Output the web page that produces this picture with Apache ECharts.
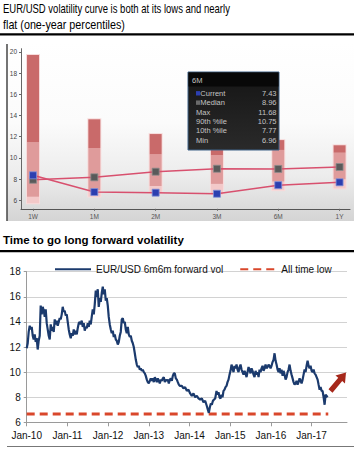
<!DOCTYPE html>
<html>
<head>
<meta charset="utf-8">
<title>EUR/USD volatility</title>
<script src="https://cdn.jsdelivr.net/npm/echarts@6/dist/echarts.min.js"></script>
<style>
  html, body { margin: 0; padding: 0; background: #fff; }
  #chart { width: 354px; height: 450px; }
</style>
</head>
<body>
<div id="chart"></div>
<script>
// --- top panel: one-year percentiles per tenor ---
const tenors = ['1W', '1M', '2M', '3M', '6M', '1Y'];
const volMax = [19.7, 13.64, 12.25, 11.1, 11.68, 11.19];
const vol90 = [11.47, 10.93, 10.34, 10.27, 10.75, 10.49];
const vol10 = [6.34, 6.95, 7.35, 7.55, 7.77, 7.98];
const volMin = [5.72, 6.35, 6.7, 6.55, 6.96, 7.13];
const volCurrent = [8.36, 6.78, 6.72, 6.62, 7.43, 7.7];
const volMedian = [7.94, 8.17, 8.7, 8.98, 8.96, 9.14];
const topTicks = [6, 8, 10, 12, 14, 16, 18, 20];
const tipIndex = 4; // tooltip shown for 6M

// --- bottom panel: EUR/USD 6m6m forward vol ---
const fwdYears = [
  2010.000, 2010.025, 2010.049, 2010.074, 2010.098, 2010.123, 2010.148, 2010.172, 2010.197, 2010.221,
  2010.246, 2010.270, 2010.295, 2010.320, 2010.344, 2010.369, 2010.393, 2010.418, 2010.443, 2010.467,
  2010.492, 2010.516, 2010.541, 2010.566, 2010.590, 2010.615, 2010.639, 2010.664, 2010.689, 2010.713,
  2010.738, 2010.762, 2010.787, 2010.811, 2010.836, 2010.861, 2010.885, 2010.910, 2010.934, 2010.959,
  2010.984, 2011.008, 2011.033, 2011.057, 2011.082, 2011.107, 2011.131, 2011.156, 2011.180, 2011.205,
  2011.230, 2011.254, 2011.279, 2011.303, 2011.328, 2011.352, 2011.377, 2011.402, 2011.426, 2011.451,
  2011.475, 2011.500, 2011.525, 2011.549, 2011.574, 2011.598, 2011.623, 2011.648, 2011.672, 2011.697,
  2011.721, 2011.746, 2011.770, 2011.795, 2011.820, 2011.844, 2011.869, 2011.893, 2011.918, 2011.943,
  2011.967, 2011.992, 2012.016, 2012.041, 2012.066, 2012.090, 2012.115, 2012.139, 2012.164, 2012.189,
  2012.213, 2012.238, 2012.262, 2012.287, 2012.311, 2012.336, 2012.361, 2012.385, 2012.410, 2012.434,
  2012.459, 2012.484, 2012.508, 2012.533, 2012.557, 2012.582, 2012.607, 2012.631, 2012.656, 2012.680,
  2012.705, 2012.730, 2012.754, 2012.779, 2012.803, 2012.828, 2012.852, 2012.877, 2012.902, 2012.926,
  2012.951, 2012.975, 2013.000, 2013.025, 2013.049, 2013.074, 2013.098, 2013.123, 2013.148, 2013.172,
  2013.197, 2013.221, 2013.246, 2013.270, 2013.295, 2013.320, 2013.344, 2013.369, 2013.393, 2013.418,
  2013.443, 2013.467, 2013.492, 2013.516, 2013.541, 2013.566, 2013.590, 2013.615, 2013.639, 2013.664,
  2013.689, 2013.713, 2013.738, 2013.762, 2013.787, 2013.811, 2013.852, 2013.893, 2013.934, 2013.975,
  2014.016, 2014.057, 2014.098, 2014.139, 2014.180, 2014.221, 2014.262, 2014.303, 2014.344, 2014.385,
  2014.426, 2014.451, 2014.475, 2014.500, 2014.525, 2014.549, 2014.574, 2014.598, 2014.631, 2014.664,
  2014.689, 2014.713, 2014.738, 2014.762, 2014.787, 2014.811, 2014.836, 2014.861, 2014.885, 2014.910,
  2014.934, 2014.959, 2014.984, 2015.008, 2015.033, 2015.057, 2015.082, 2015.107, 2015.131, 2015.156,
  2015.180, 2015.205, 2015.230, 2015.254, 2015.279, 2015.303, 2015.328, 2015.352, 2015.377, 2015.402,
  2015.426, 2015.451, 2015.475, 2015.500, 2015.525, 2015.549, 2015.574, 2015.598, 2015.623, 2015.648,
  2015.672, 2015.697, 2015.721, 2015.746, 2015.770, 2015.795, 2015.820, 2015.844, 2015.869, 2015.893,
  2015.918, 2015.943, 2015.967, 2015.992, 2016.016, 2016.041, 2016.066, 2016.090, 2016.115, 2016.139,
  2016.164, 2016.189, 2016.213, 2016.238, 2016.262, 2016.287, 2016.311, 2016.336, 2016.361, 2016.385,
  2016.410, 2016.434, 2016.459, 2016.484, 2016.508, 2016.533, 2016.557, 2016.582, 2016.607, 2016.631,
  2016.656, 2016.680, 2016.705, 2016.730, 2016.754, 2016.779, 2016.803, 2016.828, 2016.852, 2016.877,
  2016.902, 2016.926, 2016.951, 2016.975, 2017.000, 2017.025, 2017.049, 2017.074, 2017.098, 2017.123,
  2017.148, 2017.172, 2017.197, 2017.221, 2017.246, 2017.270, 2017.295, 2017.320, 2017.344, 2017.369,
  2017.393
];
const fwdVol = [
  11.9, 12.3, 13.2, 13.7, 13.4, 13.6, 12.9, 12.6, 13.0, 12.4,
  12.7, 11.8, 12.5, 12.9, 15.3, 14.6, 15.2, 14.9, 14.4, 15.0,
  13.9, 13.4, 12.9, 12.6, 13.8, 13.3, 13.6, 13.2, 14.2, 13.8,
  14.1, 13.7, 14.0, 14.3, 14.2, 14.6, 15.2, 14.8, 14.9, 14.5,
  14.6, 14.0, 13.4, 13.0, 12.7, 13.1, 12.9, 13.4, 13.0, 13.3,
  13.0, 13.5, 13.9, 14.0, 13.8, 14.1, 13.6, 13.9, 13.3, 13.6,
  13.5, 13.9, 13.6, 14.1, 13.8, 14.4, 15.0, 14.6, 15.4, 16.5,
  16.0, 16.6, 15.2, 15.9, 15.6, 16.3, 16.8, 16.2, 16.6, 15.7,
  15.9, 15.3, 14.4, 13.8, 13.4, 13.1, 13.3, 12.8, 13.0, 12.6,
  12.5, 12.2, 12.4, 12.9, 13.2, 14.2, 14.3, 13.9, 14.0, 13.4,
  13.1, 13.6, 13.0, 12.8, 12.9, 12.5, 12.3, 12.0, 11.5, 11.0,
  10.6, 10.4, 10.5, 10.2, 10.3, 10.1, 10.2, 10.0, 9.9, 9.7,
  9.4, 9.2, 9.1, 9.3, 9.5, 9.3, 9.5, 9.2, 9.6, 9.4,
  9.2, 9.5, 9.3, 9.1, 9.4, 9.3, 9.5, 9.6, 9.2, 9.4,
  9.3, 9.4, 9.1, 9.4, 9.5, 9.3, 9.7, 9.9, 9.9, 9.5,
  9.4, 9.2, 9.0, 8.9, 8.9, 8.9, 8.7, 8.8, 8.5, 8.6,
  8.3, 8.1, 8.3, 8.0, 8.1, 7.9, 7.8, 7.9, 7.6, 7.7,
  7.3, 7.0, 6.75, 7.2, 7.5, 7.4, 7.7, 7.8, 7.9, 8.5,
  8.2, 8.4, 8.0, 7.9, 8.2, 8.0, 8.5, 8.6, 8.8, 8.9,
  9.2, 9.4, 9.8, 10.1, 10.6, 10.3, 10.0, 10.5, 10.3, 10.6,
  10.2, 10.0, 10.4, 10.6, 10.2, 10.0, 9.8, 10.1, 9.9, 9.6,
  10.0, 10.4, 10.2, 9.9, 10.3, 10.1, 9.8, 9.6, 10.1, 9.8,
  10.0, 9.6, 10.2, 10.0, 10.3, 10.5, 10.1, 10.3, 10.6, 10.3,
  10.4, 10.6, 10.5, 10.3, 10.5, 10.8, 11.0, 11.5, 10.9, 10.6,
  10.2, 10.0, 10.3, 9.9, 10.2, 9.7, 10.1, 9.8, 9.4, 9.6,
  10.0, 10.2, 10.6, 10.1, 9.8, 9.5, 9.2, 9.0, 9.1, 9.3,
  9.0, 9.2, 9.5, 9.3, 9.1, 9.4, 9.8, 10.2, 10.0, 10.5,
  10.9, 10.5, 10.3, 10.5, 10.1, 10.0, 10.2, 9.9, 9.8, 9.6,
  9.4, 9.0, 8.6, 8.8, 8.5, 8.5, 8.0, 7.4, 8.2, 8.1,
  8.0
];
const allTimeLow = 6.66;
const lowSpan = [2010, 2017.41];
const yearTicks = [2010, 2011, 2012, 2013, 2014, 2015, 2016, 2017];
const fwdName = 'EUR/USD 6m6m forward vol';
const lowName = 'All time low';

const FONT = '"Liberation Sans", Arial, sans-serif';
const chart = echarts.init(document.getElementById('chart'), null, { renderer: 'svg' });

// squeeze headline text to the width it takes in the original
const measureCtx = document.createElement('canvas').getContext('2d');
function fitScale(text, size, weight, target) {
  measureCtx.font = `${weight} ${size}px ${FONT}`;
  return target / measureCtx.measureText(text).width;
}

function headline(text, x, y, size, weight, target) {
  return {
    type: 'text', x: x, y: y, z: 50,
    scaleX: fitScale(text, size, weight, target),
    style: { text: text, fontFamily: FONT, fontSize: size, fontWeight: weight, fill: '#000', verticalAlign: 'top' }
  };
}

// static tooltip box for the 6M tenor
function tooltipBox() {
  const bx = 188, by = 72, bw = 91, bh = 78;
  const rows = [
    ['Current', volCurrent[tipIndex], '#2c3fb0'],
    ['Median', volMedian[tipIndex], '#6a6a6a'],
    ['Max', volMax[tipIndex]],
    ['90th %ile', vol90[tipIndex]],
    ['10th %ile', vol10[tipIndex]],
    ['Min', volMin[tipIndex]]
  ];
  const txt = (x, y, text, align) => ({
    type: 'text', z: 101, x: x, y: y,
    style: { text: text, fontFamily: FONT, fontSize: 7.5, fill: '#c4c4c4', align: align || 'left', verticalAlign: 'middle' }
  });
  const els = [
    { type: 'rect', z: 100, shape: { x: bx, y: by, width: bw, height: bh },
      style: { fill: new echarts.graphic.LinearGradient(0, 0, 0, 1, [
        { offset: 0, color: '#151515' }, { offset: 1, color: '#2a2a2a' }]),
        stroke: '#3f6288', lineWidth: 1 } },
    { type: 'rect', z: 100, shape: { x: bx + 0.5, y: by + 0.5, width: bw - 1, height: 14 }, style: { fill: '#080808' } },
    txt(bx + 4, by + 8, tenors[tipIndex])
  ];
  rows.forEach(([label, val, mark], i) => {
    const cy = by + 21.3 + i * 9.35;
    let tx = bx + 8;
    if (mark) {
      els.push({ type: 'rect', z: 101, shape: { x: bx + 8, y: cy - 2.2, width: 4, height: 4.4 }, style: { fill: mark } });
      tx = bx + 12.3;
    }
    els.push(txt(tx, cy, label));
    els.push(txt(bx + bw - 2.5, cy, val.toFixed(2), 'right'));
  });
  return els;
}

// red arrow pointing up/right at the end of the line
function arrow(tail, tip) {
  const dx = tip[0] - tail[0], dy = tip[1] - tail[1];
  const len = Math.hypot(dx, dy);
  const ux = dx / len, uy = dy / len, px = -uy, py = ux;
  const neck = [tip[0] - ux * 9, tip[1] - uy * 9];
  const pt = (b, w) => [b[0] + px * w, b[1] + py * w];
  return {
    type: 'polygon', z: 50,
    shape: { points: [pt(tail, 2.6), pt(neck, 2.6), pt(neck, 6.2), tip, pt(neck, -6.2), pt(neck, -2.6), pt(tail, -2.6)] },
    style: { fill: '#a6281b' }
  };
}

const option = {
  animation: false,
  backgroundColor: '#ffffff',
  textStyle: { fontFamily: FONT },
  graphic: [
    headline('EUR/USD volatility curve is both at its lows and nearly', 3, 2.2, 13, 'normal', 227),
    headline('flat (one-year percentiles)', 3, 17.8, 13, 'normal', 122),
    { type: 'rect', z: 50, shape: { x: 0, y: 33.2, width: 354, height: 2.2 }, style: { fill: '#000' } },
    // gradient panel behind the percentile chart
    { type: 'rect', z: -10, shape: { x: 7, y: 42, width: 347, height: 179 },
      style: { fill: new echarts.graphic.LinearGradient(0, 0, 0, 1, [
        { offset: 0, color: '#ffffff' }, { offset: 0.45, color: '#fbfbfb' },
        { offset: 0.75, color: '#ececec' }, { offset: 1, color: '#d4d4d4' }]) } },
    { type: 'line', z: 50, shape: { x1: 7, y1: 44, x2: 7, y2: 221 }, style: { stroke: '#3a3a3a', lineWidth: 1.4 } },
    ...tooltipBox(),
    headline('Time to go long forward volatility', 3, 234, 11.5, 'bold', 181),
    { type: 'rect', z: 50, shape: { x: 0, y: 250, width: 354, height: 2.2 }, style: { fill: '#000' } },
    { type: 'line', z: 50, shape: { x1: 7, y1: 446.5, x2: 354, y2: 446.5 }, style: { stroke: '#777', lineWidth: 1 } },
    arrow([330.5, 391], [346, 372.5])
  ],
  legend: {
    left: 49, top: 259.3, itemWidth: 36, itemHeight: 10, itemGap: 16,
    itemStyle: { opacity: 0 },
    textStyle: { fontSize: 10, color: '#111', fontFamily: FONT },
    data: [fwdName, lowName]
  },
  grid: [
    { left: 21, right: 4, top: 48.7, bottom: 241.2 },
    { left: 26.7, right: 7, top: 271.7, bottom: 27.7 }
  ],
  xAxis: [
    {
      type: 'value', gridIndex: 0, min: -0.196, max: 5.17,
      splitLine: { show: false },
      axisLine: { onZero: false, lineStyle: { color: '#555', width: 1 } },
      axisTick: { length: 2, lineStyle: { color: '#666' }, customValues: tenors.map((t, i) => i) },
      axisLabel: { fontSize: 6.5, color: '#555', margin: 4, customValues: tenors.map((t, i) => i), formatter: v => tenors[v] }
    },
    {
      type: 'value', gridIndex: 1, min: 2010, max: 2017.87,
      splitLine: { show: false },
      axisLine: { onZero: false, lineStyle: { color: '#9a9a9a', width: 1 } },
      axisTick: { length: 4, lineStyle: { color: '#9a9a9a' }, customValues: yearTicks },
      axisLabel: { fontSize: 10, color: '#111', margin: 8, customValues: yearTicks, formatter: v => 'Jan-' + String(v).slice(2) }
    }
  ],
  yAxis: [
    {
      type: 'value', gridIndex: 0, min: 5.2, max: 20.3,
      splitLine: { show: false },
      axisLine: { show: true, onZero: false, lineStyle: { color: '#666', width: 1 } },
      axisTick: { show: true, length: 2, lineStyle: { color: '#666' }, customValues: topTicks },
      axisLabel: { fontSize: 6.5, color: '#444', margin: 4, customValues: topTicks }
    },
    {
      type: 'value', gridIndex: 1, min: 6, max: 18, interval: 2,
      splitLine: { lineStyle: { color: '#d2d2d2', width: 1 } },
      axisLine: { show: true, onZero: false, lineStyle: { color: '#9a9a9a', width: 1 } },
      axisTick: { show: true, length: 3, lineStyle: { color: '#9a9a9a' } },
      axisLabel: { fontSize: 10, color: '#111', margin: 6 }
    }
  ],
  series: [
    {
      type: 'custom', name: 'range', xAxisIndex: 0, yAxisIndex: 0, z: 2,
      data: tenors.map((t, i) => [i, volMin[i], vol10[i], vol90[i], volMax[i]]),
      renderItem: (params, api) => {
        const x = api.value(0);
        const levels = [api.value(1), api.value(2), api.value(3), api.value(4)];
        const fills = ['#f3c9c9', '#df9b9b', '#c96a6a'];
        const halfW = 6;
        const top = api.coord([x, levels[3]]);
        const bot = api.coord([x, levels[0]]);
        const children = [{
          type: 'rect',
          shape: { x: top[0] - halfW - 1, y: top[1] - 1, width: halfW * 2 + 2, height: bot[1] - top[1] + 2 },
          style: { fill: '#f7dcdc' }
        }];
        fills.forEach((fill, k) => {
          const hi = api.coord([x, levels[k + 1]]);
          const lo = api.coord([x, levels[k]]);
          children.push({ type: 'rect', shape: { x: hi[0] - halfW, y: hi[1], width: halfW * 2, height: lo[1] - hi[1] }, style: { fill: fill } });
        });
        return { type: 'group', children: children };
      }
    },
    {
      type: 'line', name: 'Median', xAxisIndex: 0, yAxisIndex: 0, z: 3,
      data: tenors.map((t, i) => [i, volMedian[i]]),
      symbol: 'rect', symbolSize: 7,
      itemStyle: { color: '#5a5a5a', borderColor: '#8c8c8c', borderWidth: 0.8 },
      lineStyle: { color: '#d8506e', width: 1.5 }
    },
    {
      type: 'line', name: 'Current', xAxisIndex: 0, yAxisIndex: 0, z: 4,
      data: tenors.map((t, i) => [i, volCurrent[i]]),
      symbol: 'rect', symbolSize: 7,
      itemStyle: { color: '#2c3fb0', borderColor: '#7f8fd8', borderWidth: 0.8 },
      lineStyle: { color: '#d8506e', width: 1.5 }
    },
    {
      type: 'line', name: fwdName, xAxisIndex: 1, yAxisIndex: 1, z: 3,
      data: fwdYears.map((yr, i) => [yr, fwdVol[i]]),
      symbol: 'none', showSymbol: false,
      lineStyle: { color: '#1b3a6d', width: 2.2 },
      itemStyle: { color: '#1b3a6d' }
    },
    {
      type: 'line', name: lowName, xAxisIndex: 1, yAxisIndex: 1, z: 2,
      data: lowSpan.map(yr => [yr, allTimeLow]),
      symbol: 'none', showSymbol: false,
      lineStyle: { color: '#d9472b', width: 3, type: [8, 5] },
      itemStyle: { color: '#d9472b' }
    }
  ]
};

chart.setOption(option);
window.addEventListener('resize', () => chart.resize());
</script>
</body>
</html>
